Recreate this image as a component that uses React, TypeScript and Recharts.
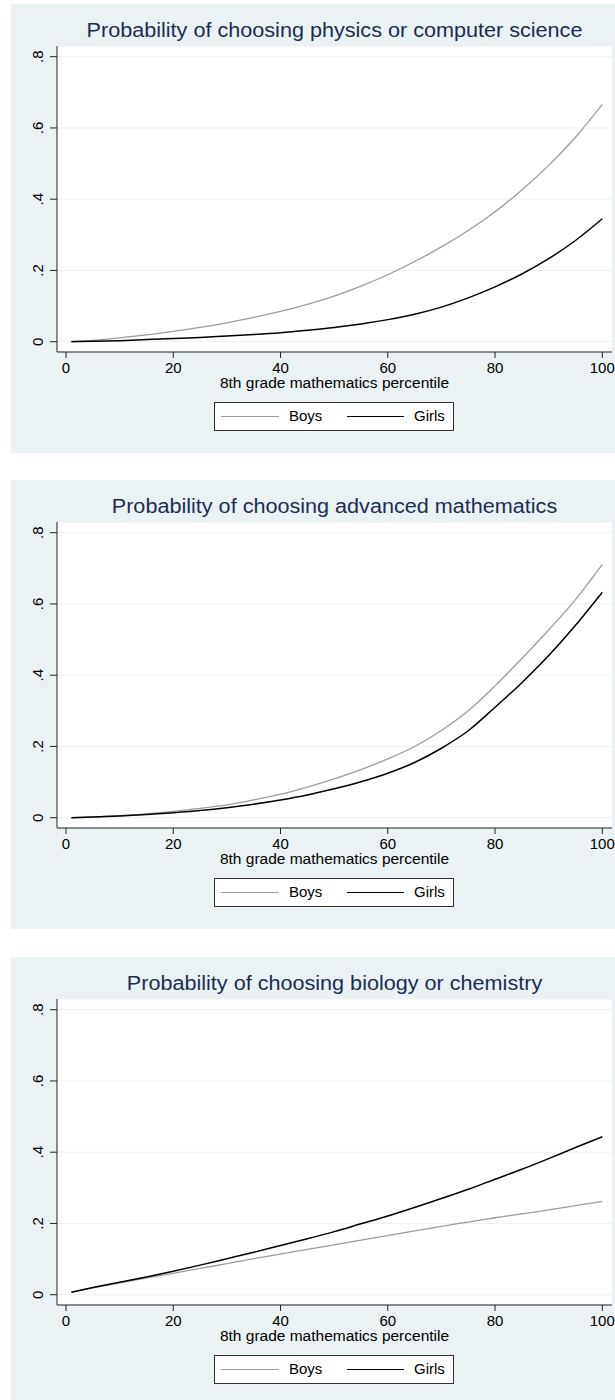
import { LineChart, Line, XAxis, YAxis, CartesianGrid } from "recharts"

const percentile = [1, 5, 10, 15, 20, 25, 30, 35, 40, 45, 50, 55, 60, 65, 70, 75, 80, 85, 90, 95, 100]

const physBoys = [0.001, 0.004, 0.011, 0.019, 0.029, 0.04, 0.053, 0.068, 0.085, 0.105, 0.128, 0.156, 0.188, 0.225, 0.266, 0.312, 0.365, 0.426, 0.495, 0.574, 0.666]
const physGirls = [0, 0.001, 0.003, 0.006, 0.009, 0.012, 0.016, 0.02, 0.025, 0.032, 0.04, 0.05, 0.062, 0.077, 0.097, 0.123, 0.154, 0.19, 0.233, 0.284, 0.345]

const mathBoys = [0, 0.002, 0.006, 0.011, 0.018, 0.026, 0.036, 0.05, 0.066, 0.086, 0.109, 0.135, 0.165, 0.2, 0.245, 0.3, 0.37, 0.447, 0.527, 0.612, 0.711]
const mathGirls = [0, 0.002, 0.005, 0.009, 0.014, 0.02, 0.028, 0.038, 0.05, 0.064, 0.081, 0.101, 0.125, 0.155, 0.195, 0.244, 0.31, 0.379, 0.455, 0.54, 0.633]

const bioBoys = [0.007, 0.019, 0.033, 0.047, 0.06, 0.074, 0.087, 0.101, 0.114, 0.127, 0.14, 0.153, 0.166, 0.179, 0.192, 0.204, 0.216, 0.227, 0.238, 0.25, 0.262]
const bioGirls = [0.007, 0.02, 0.035, 0.05, 0.066, 0.083, 0.101, 0.119, 0.138, 0.157, 0.177, 0.199, 0.221, 0.245, 0.27, 0.296, 0.324, 0.352, 0.382, 0.413, 0.4435]

const xTicks = [0, 20, 40, 60, 80, 100]
const yTicks = [0, 0.2, 0.4, 0.6, 0.8]
const yLabels = ["0", ".2", ".4", ".6", ".8"]

const FONT = '"Liberation Sans", Arial, sans-serif'
const BG = "#eaf2f3"
const BOYS = "#9c9c9c"
const GIRLS = "#000000"

function YTick({ x, y, payload }: any) {
  const tx = x - 4.5
  const i = yTicks.indexOf(payload.value)
  return (
    <text x={tx} y={y} transform={`rotate(-90 ${tx} ${y})`} textAnchor="middle" fontSize={15} fontFamily={FONT} fill="#000">
      {i >= 0 ? yLabels[i] : payload.value}
    </text>
  )
}

function Panel({ top, title, boys, girls }: { top: number; title: string; boys: number[]; girls: number[] }) {
  const data = percentile.map((p, i) => ({ p, boys: boys[i], girls: girls[i] }))
  return (
    <div style={{ position: "absolute", left: 11, top, width: 604, height: 449, background: BG, fontFamily: FONT }}>
      <div
        style={{
          position: "absolute", left: 46, top: 16, width: 555, textAlign: "center",
          fontSize: 20, lineHeight: "20px", color: "#1c2c56", whiteSpace: "nowrap",
          transform: "scaleX(1.08)", transformOrigin: "center",
        }}
      >
        {title}
      </div>
      <LineChart width={604} height={449} data={data} margin={{ top: 42, right: 3, bottom: 71, left: 10 }}>
        <CartesianGrid vertical={false} stroke={BG} fill="#ffffff" />
        <XAxis
          dataKey="p"
          type="number"
          domain={[-1.68, 101.81]}
          ticks={xTicks}
          allowDataOverflow
          height={30}
          tickSize={6}
          tickMargin={4}
          tick={{ fontSize: 15, fill: "#000", fontFamily: FONT }}
          axisLine={{ stroke: "#222" }}
          tickLine={{ stroke: "#222" }}
        />
        <YAxis
          type="number"
          domain={[-0.0289, 0.83]}
          ticks={yTicks}
          allowDataOverflow
          width={36}
          tickSize={7}
          tickMargin={2}
          tick={<YTick />}
          axisLine={{ stroke: "#222" }}
          tickLine={{ stroke: "#222" }}
        />
        <Line type="monotone" dataKey="boys" stroke={BOYS} strokeWidth={1.3} dot={false} isAnimationActive={false} />
        <Line type="monotone" dataKey="girls" stroke={GIRLS} strokeWidth={1.5} dot={false} isAnimationActive={false} />
      </LineChart>
      <div style={{ position: "absolute", left: 46, top: 372, width: 555, textAlign: "center", fontSize: 15.5, lineHeight: "14px", color: "#000" }}>
        8th grade mathematics percentile
      </div>
      <div style={{ position: "absolute", left: 203, top: 398, width: 240, height: 29, boxSizing: "border-box", border: "1px solid #333", background: "#fff" }}>
        <div style={{ position: "absolute", left: 6, top: 13, width: 58, height: 0, borderTop: `1.3px solid ${BOYS}` }} />
        <span style={{ position: "absolute", left: 74, top: 4.5, fontSize: 15, lineHeight: "15px" }}>Boys</span>
        <div style={{ position: "absolute", left: 132, top: 13, width: 57, height: 0, borderTop: `1.5px solid ${GIRLS}` }} />
        <span style={{ position: "absolute", left: 199, top: 4.5, fontSize: 15, lineHeight: "15px" }}>Girls</span>
      </div>
    </div>
  )
}

export default function App() {
  return (
    <div style={{ position: "absolute", left: 0, top: 0, width: 615, height: 1400, background: "#fff", overflow: "hidden" }}>
      <Panel top={4} title="Probability of choosing physics or computer science" boys={physBoys} girls={physGirls} />
      <Panel top={480} title="Probability of choosing advanced mathematics" boys={mathBoys} girls={mathGirls} />
      <Panel top={957} title="Probability of choosing biology or chemistry" boys={bioBoys} girls={bioGirls} />
    </div>
  )
}
